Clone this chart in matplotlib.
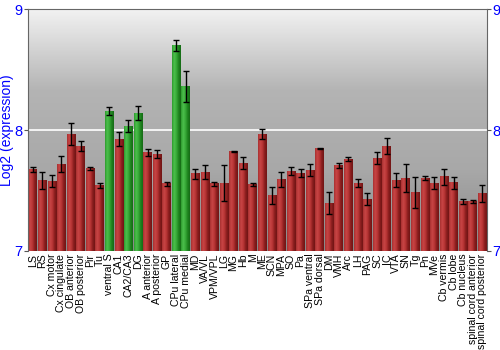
import numpy as np
import matplotlib
matplotlib.use("Agg")
import matplotlib.pyplot as plt
from matplotlib.colors import LinearSegmentedColormap

plt.rcParams['font.family'] = ['Liberation Sans', 'DejaVu Sans']

regions = ["LS", "RS", "Cx motor", "Cx cingulate", "OB anterior", "OB posterior", "Pir", "Tu",
           "ventral S", "CA1", "CA2/CA3", "DG", "A anterior", "A posterior", "GP",
           "CPu lateral", "CPu medial", "MD", "VA/VL", "VPM/VPL", "LG", "MG", "Hb", "M",
           "ME", "SCN", "MPA", "SO", "Pa", "SPa ventral", "SPa dorsal", "DM", "VMH", "Arc",
           "LH", "PAG", "SC", "IC", "VTA", "SN", "Tg", "Pn", "MVe", "Cb vermis", "Cb lobe",
           "Cb nucleus", "spinal cord anterior", "spinal cord posterior"]

expression = [7.675, 7.58, 7.576, 7.719, 7.967, 7.868, 7.683, 7.543,
              8.157, 7.926, 8.033, 8.14, 7.816, 7.802, 7.556,
              8.702, 8.358, 7.639, 7.653, 7.556, 7.562, 7.821, 7.727, 7.548,
              7.967, 7.455, 7.592, 7.661, 7.645, 7.667, 7.846, 7.394, 7.708, 7.760,
              7.562, 7.430, 7.769, 7.868, 7.587, 7.603, 7.482, 7.603, 7.56, 7.614, 7.565,
              7.408, 7.408, 7.477]

errors = [0.02, 0.07, 0.05, 0.07, 0.09, 0.04, 0.01, 0.02,
          0.03, 0.06, 0.05, 0.06, 0.03, 0.035, 0.015,
          0.045, 0.13, 0.04, 0.06, 0.015, 0.15, 0.005, 0.05, 0.01,
          0.045, 0.07, 0.06, 0.03, 0.03, 0.05, 0.005, 0.09, 0.02, 0.02,
          0.035, 0.05, 0.05, 0.07, 0.06, 0.115, 0.13, 0.02, 0.05, 0.065, 0.05,
          0.02, 0.01, 0.07]

highlighted = ["ventral S", "CA2/CA3", "DG", "CPu lateral", "CPu medial"]

red_cmap = LinearSegmentedColormap.from_list("red", ["#a83030", "#c84545", "#b83535", "#8a1e1e", "#701515"])
green_cmap = LinearSegmentedColormap.from_list("green", ["#2f9a2f", "#4cc04c", "#38aa38", "#1e841e", "#166a16"])
# light at the top, dark at the bottom
bg_cmap = LinearSegmentedColormap.from_list("bg", ["#888888", "#a8a8a8", "#b4b4b4", "#f2f2f2"])

fig = plt.figure(figsize=(5, 3.5), dpi=100)
ax = fig.add_axes([0.056, 0.283, 0.918, 0.691])

x = np.arange(len(regions))
ymin, ymax = 7, 9

# background gradient
grad_v = np.linspace(0, 1, 256).reshape(-1, 1)
ax.imshow(grad_v, extent=[-0.5, len(regions) - 0.5, ymin, ymax], cmap=bg_cmap,
          aspect='auto', zorder=0, origin='lower')
ax.axhline(8, color='white', lw=1.2, zorder=1)

bars = ax.bar(x, np.array(expression) - ymin, bottom=ymin, width=0.9,
              facecolor='none', edgecolor='none', zorder=2)
grad_h = np.linspace(0, 1, 64).reshape(1, -1)
for name, patch in zip(regions, bars.patches):
    cmap = green_cmap if name in highlighted else red_cmap
    x0 = patch.get_x()
    w = patch.get_width()
    top = patch.get_y() + patch.get_height()
    ax.imshow(grad_h, extent=[x0, x0 + w, ymin, top], cmap=cmap, aspect='auto', zorder=2)

ax.errorbar(x, expression, yerr=errors, fmt='none', ecolor='black', elinewidth=1,
            capsize=2.2, capthick=1, zorder=3)

ax.set_xlim(-0.5, len(regions) - 0.5)
ax.set_ylim(ymin, ymax)
ax.set_xticks(x)
ax.set_xticklabels(regions, rotation=90, fontsize=7.6)
ax.tick_params(axis='x', length=0, pad=2)
ax.set_yticks([7, 8, 9])
ax.tick_params(axis='y', colors='#555555', labelcolor='blue', labelsize=10.5,
               length=3, left=True, right=True, labelleft=True, labelright=True, pad=1)
ax.set_ylabel("Log2 (expression)", color='blue', fontsize=10, labelpad=0)

for side in ['left', 'right', 'top']:
    ax.spines[side].set_color('#666666')
ax.spines['bottom'].set_visible(False)

fig.savefig("out.png", dpi=100)
